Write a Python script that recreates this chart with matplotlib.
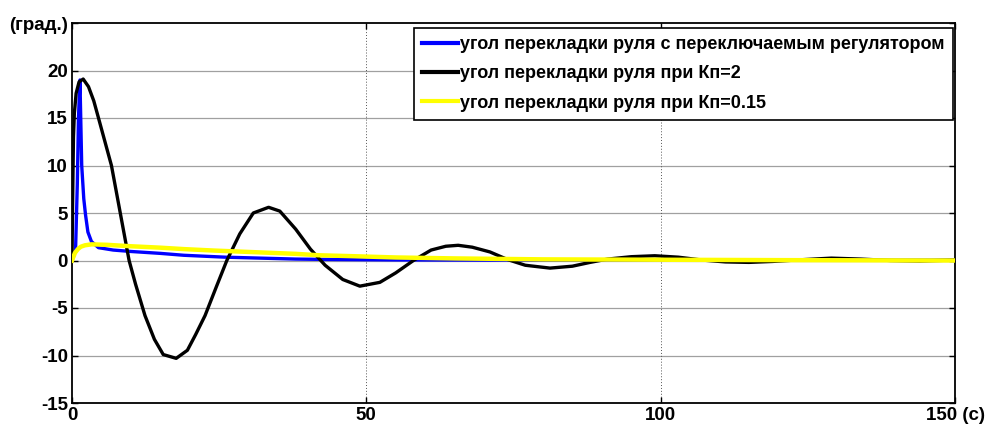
import matplotlib
matplotlib.use("Agg")
import matplotlib.pyplot as plt
import matplotlib.transforms as mtransforms
from matplotlib import font_manager

# ---- data ----
t_blue = [0, 0.6, 0.9, 1.1, 1.35, 1.65, 2.0, 2.3, 2.7, 3.3, 4.5, 7, 10, 15, 19, 26, 32, 38, 45, 55, 70, 90, 110, 130, 150]
y_blue = [0, 1.0, 8.0, 15.0, 19.0, 10.0, 6.5, 4.8, 3.0, 2.0, 1.35, 1.1, 0.95, 0.75, 0.55, 0.35, 0.25, 0.15, 0.1, 0.06, 0.04, 0.03, 0.03, 0.04, 0.05]

t_black = [0, 0.1, 0.25, 0.4, 0.7, 1.2, 1.9, 2.8, 3.7, 4.5, 5.6, 6.7, 8.2, 9.7, 10.8, 12.4, 14, 15.5, 17.7, 19.6, 21, 22.6,
           24.5, 26.3, 28.5, 30.8, 33.4, 35.3, 38, 40.5, 43, 46, 48.9, 52.3, 55, 58, 61, 63.5, 65.6, 68, 71, 74, 77,
           81.2, 85, 88, 91, 95, 99, 103, 107, 111, 115, 119, 123, 129, 134, 139, 144, 150]
y_black = [0, 6, 13, 15.5, 17.6, 18.8, 19.1, 18.3, 16.8, 15, 12.5, 10, 5, 0, -2.5, -5.8, -8.3, -9.9, -10.3, -9.45, -7.8, -5.8,
           -2.8, 0, 2.8, 5.0, 5.6, 5.2, 3.3, 1.2, -0.5, -2.0, -2.7, -2.3, -1.3, 0, 1.1, 1.5, 1.6, 1.4, 0.9, 0.1, -0.5,
           -0.8, -0.6, -0.2, 0.15, 0.4, 0.5, 0.35, 0.05, -0.15, -0.2, -0.1, 0.05, 0.25, 0.15, 0, -0.05, 0.05]

t_yellow = [0, 0.5, 1, 1.5, 2.2, 3.3, 6, 10, 15, 19, 24, 28, 32, 38, 42, 48, 55, 65, 80, 100, 120, 150]
y_yellow = [0, 0.8, 1.2, 1.45, 1.6, 1.7, 1.65, 1.5, 1.35, 1.2, 1.05, 0.95, 0.85, 0.7, 0.55, 0.45, 0.32, 0.22, 0.12, 0.08, 0.04, 0.0]

labels = ["угол перекладки руля с переключаемым регулятором",
          "угол перекладки руля при Кп=2",
          "угол перекладки руля при Кп=0.15"]
x_ticks = [0, 50, 100, 150]
x_ticklabels = ["0", "50", "100", "150 (c)"]
y_ticks = [-15, -10, -5, 0, 5, 10, 15, 20, 25]
y_ticklabels = ["-15", "-10", "-5", "0", "5", "10", "15", "20", "(град.)"]

# ---- font ----
names = {f.name for f in font_manager.fontManager.ttflist}
fam = "Liberation Sans Narrow" if "Liberation Sans Narrow" in names else "Liberation Sans"
plt.rcParams['font.family'] = [fam, 'DejaVu Sans']
plt.rcParams['font.weight'] = 'bold'

W, H = 986, 430
fig = plt.figure(figsize=(W / 100, H / 100), dpi=100)
ax = fig.add_axes([72 / W, 1 - 403 / H, (955 - 72) / W, (403 - 23) / H])

ax.plot(t_blue, y_blue, color='#0000ff', lw=2.4, label=labels[0], zorder=3)
ax.plot(t_black, y_black, color='black', lw=2.4, label=labels[1], zorder=4)
ax.plot(t_yellow, y_yellow, color='#ffff00', lw=3.2, label=labels[2], zorder=5)

ax.set_xlim(0, 150)
ax.set_ylim(-15, 25)
ax.set_xticks(x_ticks)
ax.set_xticklabels(x_ticklabels, fontsize=13.5, fontweight='bold')
ax.set_yticks(y_ticks)
ax.set_yticklabels(y_ticklabels, fontsize=13.5, fontweight='bold')

# shift "150 (c)" label left a bit
lab = ax.get_xticklabels()[-1]
lab.set_transform(lab.get_transform() + mtransforms.ScaledTranslation(-12 / 100, 0, fig.dpi_scale_trans))

ax.tick_params(direction='in', length=4, width=1, top=True, right=True, pad=3)
for s in ax.spines.values():
    s.set_linewidth(1.3)
    s.set_color('black')

# grid
for yv in y_ticks[1:-1]:
    ax.axhline(yv, color='#a0a0a0', lw=0.9, zorder=1)
for xv in x_ticks[1:-1]:
    ax.axvline(xv, color='#555555', lw=0.7, ls=(0, (1, 2)), zorder=1)

leg = ax.legend(loc='upper right', bbox_to_anchor=(953 / W, 1 - 28 / H), bbox_transform=fig.transFigure,
                fancybox=False, framealpha=1, edgecolor='black',
                handlelength=1.95, handletextpad=0.15, borderpad=0.45, labelspacing=0.68, borderaxespad=0,
                prop={'weight': 'bold', 'size': 13})
leg.get_frame().set_linewidth(1.2)
for ln in leg.get_lines():
    ln.set_linewidth(3)

fig.savefig("out.png", dpi=100)
